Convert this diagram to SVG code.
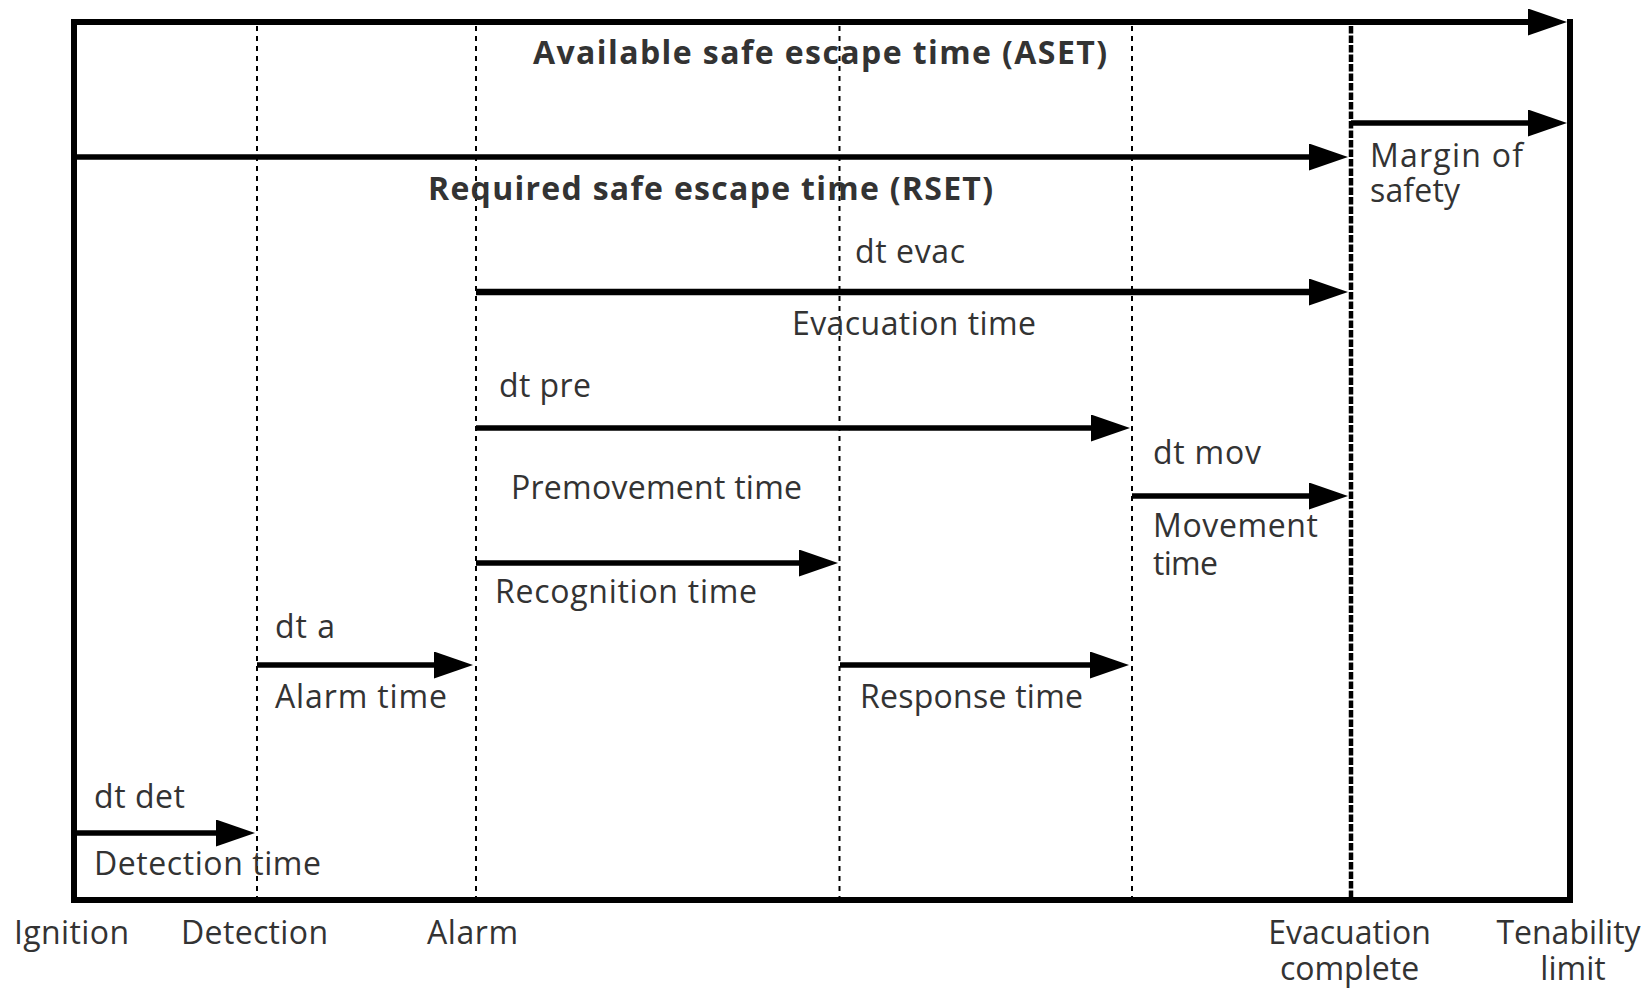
<svg xmlns="http://www.w3.org/2000/svg" width="1650" height="988" viewBox="0 0 1650 988">
<style>
text{font-family:"Open Sans","Noto Sans","Liberation Sans",sans-serif;font-size:32px;fill:#333}
.b{font-weight:bold}
.m{text-anchor:middle}
.frame{stroke:#000;stroke-width:6;fill:none}
.arr{stroke:#000;stroke-width:5.5;fill:none}
.sep{stroke:#000;stroke-width:2;stroke-dasharray:5 5;fill:none}
.evc{stroke:#000;stroke-width:4.5;stroke-dasharray:7.5 2;fill:none}
</style>
<defs>
<marker id="ah" markerUnits="userSpaceOnUse" viewBox="0 0 40 27" markerWidth="40" markerHeight="27" refX="1" refY="13.5" orient="auto">
<path d="M0,0 L39,13.5 L0,27 Z" fill="#000"/>
</marker>
</defs>
<rect width="1650" height="988" fill="#fff"/>
<g id="separators">
<line class="sep" x1="257" y1="26" x2="257" y2="897"/>
<line class="sep" x1="476" y1="26" x2="476" y2="897"/>
<line class="sep" x1="839.5" y1="26" x2="839.5" y2="897"/>
<line class="sep" x1="1132" y1="26" x2="1132" y2="897"/>
<line class="evc" x1="1351" y1="26" x2="1351" y2="897"/>
</g>
<g id="frame">
<line class="frame" x1="74" y1="19" x2="74" y2="903"/>
<line class="frame" x1="71" y1="900" x2="1573" y2="900"/>
<line class="frame" x1="1570" y1="19" x2="1570" y2="903"/>
</g>
<g id="connectors">
<line class="frame" x1="71" y1="22" x2="1529" y2="22" marker-end="url(#ah)"/>
<line class="arr" x1="74" y1="157" x2="1310" y2="157" marker-end="url(#ah)"/>
<line class="arr" x1="1351" y1="123" x2="1529" y2="123" marker-end="url(#ah)"/>
<line class="arr" x1="476" y1="292" style="stroke-width:6.5" x2="1310" y2="292" marker-end="url(#ah)"/>
<line class="arr" x1="476" y1="428" x2="1092" y2="428" marker-end="url(#ah)"/>
<line class="arr" x1="1132" y1="496" x2="1310" y2="496" marker-end="url(#ah)"/>
<line class="arr" x1="476" y1="563" x2="800" y2="563" marker-end="url(#ah)"/>
<line class="arr" x1="257" y1="665" x2="435" y2="665" marker-end="url(#ah)"/>
<line class="arr" x1="840" y1="665" x2="1091" y2="665" marker-end="url(#ah)"/>
<line class="arr" x1="74" y1="833" x2="217" y2="833" marker-end="url(#ah)"/>
</g>
<g id="aset"><text class="b" x="533" y="64" textLength="574">Available safe escape time (ASET)</text></g>
<g id="rset"><text class="b" x="428" y="200" textLength="565">Required safe escape time (RSET)</text></g>
<g id="margin"><text x="1370" y="167" textLength="153">Margin of</text><text x="1370" y="202" textLength="90">safety</text></g>
<g id="evac"><text x="855" y="263" textLength="110">dt evac</text><text x="792" y="335" textLength="244">Evacuation time</text></g>
<g id="pre"><text x="499" y="397" textLength="92">dt pre</text><text x="511" y="499" textLength="291">Premovement time</text></g>
<g id="mov"><text x="1153" y="464" textLength="108">dt mov</text><text x="1153" y="537" textLength="165">Movement</text><text x="1153" y="575" textLength="65">time</text></g>
<g id="recognition"><text x="495" y="603" textLength="262">Recognition time</text></g>
<g id="alarmtime"><text x="275" y="638" textLength="60">dt a</text><text x="275" y="708" textLength="172">Alarm time</text></g>
<g id="response"><text x="860" y="708" textLength="223">Response time</text></g>
<g id="detection"><text x="94" y="808" textLength="91">dt det</text><text x="94" y="875" textLength="227">Detection time</text></g>
<g id="axis">
<text x="14" y="944" textLength="115">Ignition</text>
<text x="181" y="944" textLength="147">Detection</text>
<text x="427" y="944" textLength="91">Alarm</text>
<text class="m" x="1349.5" y="944">Evacuation</text>
<text class="m" x="1349.5" y="980">complete</text>
<text class="m" x="1568.5" y="944">Tenability</text>
<text class="m" x="1573" y="980">limit</text>
</g>
</svg>
